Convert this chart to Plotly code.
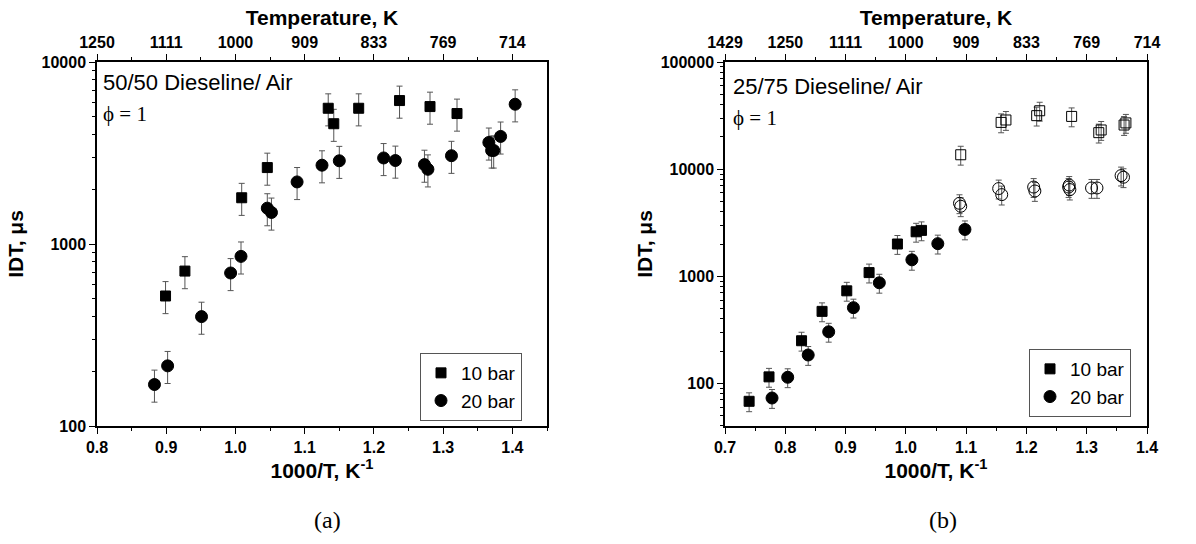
import plotly.graph_objects as go

W, H = 1196, 544

# ---------------- data (a) 50/50 Dieseline/Air ----------------
a10_x = [0.899, 0.927, 1.009, 1.046, 1.134, 1.142, 1.178, 1.237, 1.281, 1.320]
a10_y = [518, 710, 1795, 2630, 5570, 4580, 5570, 6140, 5690, 5210]
a20_x = [0.883, 0.902, 0.951, 0.993, 1.008, 1.046, 1.052, 1.089, 1.125, 1.150,
         1.214, 1.231, 1.273, 1.278, 1.312, 1.366, 1.370, 1.373, 1.383, 1.404]
a20_y = [169, 214, 399, 693, 855, 1574, 1490, 2193, 2710, 2866,
         2970, 2875, 2730, 2573, 3055, 3614, 3266, 3266, 3900, 5860]

# ---------------- data (b) 25/75 Dieseline/Air ----------------
b10_x = [0.740, 0.773, 0.827, 0.861, 0.902, 0.939, 0.986, 1.017, 1.026]
b10_y = [68, 115, 250, 470, 731, 1082, 2000, 2600, 2680]
b10o_x = [1.091, 1.158, 1.166, 1.217, 1.222, 1.275, 1.320, 1.324, 1.362, 1.365]
b10o_y = [13620, 27300, 28750, 31560, 35060, 31050, 21900, 23200, 25800, 27000]
b20_x = [0.778, 0.804, 0.838, 0.872, 0.913, 0.956, 1.010, 1.053, 1.098]
b20_y = [73, 114, 184, 303, 509, 869, 1423, 2015, 2735]
b20o_x = [1.089, 1.091, 1.154, 1.159, 1.212, 1.214, 1.270, 1.272, 1.271,
          1.308, 1.317, 1.357, 1.361]
b20o_y = [4800, 4500, 6580, 5780, 6800, 6250, 6800, 6440, 7100,
          6670, 6670, 8700, 8400]

top_vals_a = [0.8, 0.9, 1.0, 1.1, 1.2, 1.3, 1.4]
top_text_a = ["1250", "1111", "1000", "909", "833", "769", "714"]
top_vals_b = [0.7, 0.8, 0.9, 1.0, 1.1, 1.2, 1.3, 1.4]
top_text_b = ["1429", "1250", "1111", "1000", "909", "833", "769", "714"]

SANS = "Liberation Sans, Arial, sans-serif"
SERIF = "Liberation Serif, Times New Roman, serif"
ERR = dict(type="percent", value=20, color="#555555", thickness=1, width=3)

fig = go.Figure()

def add(x, y, xa, ya, symbol, name, legend, show, size):
    fig.add_trace(go.Scatter(
        x=x, y=y, xaxis=xa, yaxis=ya, mode="markers", name=name,
        legend=legend, showlegend=show,
        marker=dict(symbol=symbol, size=size, color="black",
                    line=dict(color="black", width=1)),
        error_y=ERR))

add(a10_x, a10_y, "x", "y", "square", "10 bar", "legend", True, 10)
add(a20_x, a20_y, "x", "y", "circle", "20 bar", "legend", True, 12)
add(b10o_x, b10o_y, "x2", "y2", "square-open", "10 bar", "legend2", False, 10)
add(b20o_x, b20o_y, "x2", "y2", "circle-open", "20 bar", "legend2", False, 12)
add(b10_x, b10_y, "x2", "y2", "square", "10 bar", "legend2", True, 10)
add(b20_x, b20_y, "x2", "y2", "circle", "20 bar", "legend2", True, 12)

# invisible traces for top axes
fig.add_trace(go.Scatter(x=[0.8, 1.45], y=[100, 100], xaxis="x3", yaxis="y",
                         mode="markers", marker=dict(opacity=0), showlegend=False,
                         hoverinfo="skip"))
fig.add_trace(go.Scatter(x=[0.7, 1.4], y=[100, 100], xaxis="x4", yaxis="y2",
                         mode="markers", marker=dict(opacity=0), showlegend=False,
                         hoverinfo="skip"))

def px(v):
    return v / W

def py(v):
    return 1 - v / H

tickfont = dict(family=SANS, size=16, color="black", weight="bold")
titlefont = dict(family=SANS, size=21, color="black", weight="bold")

xa_common = dict(showline=True, linecolor="black", linewidth=1.5, ticks="outside",
                 ticklen=6, tickcolor="black", tickwidth=1.2, showgrid=False,
                 zeroline=False, automargin=False,
                 tickfont=tickfont, minor=dict(ticks="outside", ticklen=3,
                                               dtick=0.05, tickcolor="black"))

def log_minor(lo, hi):
    vals = []
    e = lo
    while e < hi:
        for m in range(2, 10):
            vals.append(m * 10 ** e)
        e += 1
    return vals

ya_common = dict(type="log", showline=True, linecolor="black", linewidth=1.5,
                 ticks="outside", ticklen=6, tickcolor="black", tickwidth=1.2,
                 showgrid=False, automargin=False,
                 zeroline=False, mirror=True, tickfont=tickfont)

dom_y = [py(426), py(62)]

fig.update_layout(
    width=W, height=H, margin=dict(l=0, r=0, t=0, b=0, autoexpand=False),
    paper_bgcolor="white", plot_bgcolor="white",
    xaxis=dict(xa_common, domain=[px(97), px(547)], range=[0.8, 1.45], dtick=0.1,
               tick0=0.8, anchor="y", tickformat=".1f",
               title=dict(text="1000/T, K<sup>-1</sup>", font=titlefont, standoff=4)),
    yaxis=dict(ya_common, domain=dom_y, range=[2, 4], anchor="x",
               tickvals=[100, 1000, 10000], ticktext=["100", "1000", "10000"],
               minor=dict(ticks="outside", ticklen=3, tickcolor="black",
                          tickvals=log_minor(2, 4)),
               title=dict(text="IDT, μs", font=titlefont, standoff=12)),
    xaxis3=dict(xa_common, overlaying="x", side="top", anchor="y",
                range=[0.8, 1.45], tickvals=top_vals_a, ticktext=top_text_a,
                minor=dict(ticks="outside", ticklen=3, tickcolor="black",
                           tickvals=[0.85, 0.95, 1.05, 1.15, 1.25, 1.35]),
                title=dict(text="Temperature, K", font=titlefont, standoff=2)),
    xaxis2=dict(xa_common, domain=[px(725), px(1147)], range=[0.7, 1.4], dtick=0.1,
                tick0=0.7, anchor="y2", tickformat=".1f",
                title=dict(text="1000/T, K<sup>-1</sup>", font=titlefont, standoff=4)),
    yaxis2=dict(ya_common, domain=dom_y, range=[1.602, 5], anchor="x2",
                tickvals=[100, 1000, 10000, 100000],
                ticktext=["100", "1000", "10000", "100000"],
                minor=dict(ticks="outside", ticklen=3, tickcolor="black",
                           tickvals=log_minor(1, 5)),
                title=dict(text="IDT, μs", font=titlefont, standoff=2)),
    xaxis4=dict(xa_common, overlaying="x2", side="top", anchor="y2",
                range=[0.7, 1.4], tickvals=top_vals_b, ticktext=top_text_b,
                minor=dict(ticks="outside", ticklen=3, tickcolor="black",
                           tickvals=[0.75, 0.85, 0.95, 1.05, 1.15, 1.25, 1.35]),
                title=dict(text="Temperature, K", font=titlefont, standoff=2)),
    legend=dict(x=px(420), y=py(353), xanchor="left", yanchor="top",
                bordercolor="#555555", borderwidth=1, bgcolor="white",
                font=dict(family=SANS, size=19, color="black"),
                tracegroupgap=0, itemwidth=30),
    legend2=dict(x=px(1029), y=py(349), xanchor="left", yanchor="top",
                 bordercolor="#555555", borderwidth=1, bgcolor="white",
                 font=dict(family=SANS, size=19, color="black"),
                 tracegroupgap=0, itemwidth=30),
    showlegend=True,
)

ann = [
    dict(text="50/50 Dieseline/ Air", x=px(101), y=py(82), font=dict(family=SANS, size=22)),
    dict(text="ϕ = 1", x=px(101), y=py(114), font=dict(family=SERIF, size=21)),
    dict(text="25/75 Dieseline/ Air", x=px(731), y=py(86), font=dict(family=SANS, size=22)),
    dict(text="ϕ = 1", x=px(731), y=py(118), font=dict(family=SERIF, size=21)),
    dict(text="(a)", x=px(312), y=py(520), font=dict(family=SERIF, size=24)),
    dict(text="(b)", x=px(927), y=py(520), font=dict(family=SERIF, size=24)),
]
for a in ann:
    a["font"]["color"] = "black"
    fig.add_annotation(xref="paper", yref="paper", showarrow=False,
                       xanchor="left", yanchor="middle", **a)

fig.write_html("out.html")
